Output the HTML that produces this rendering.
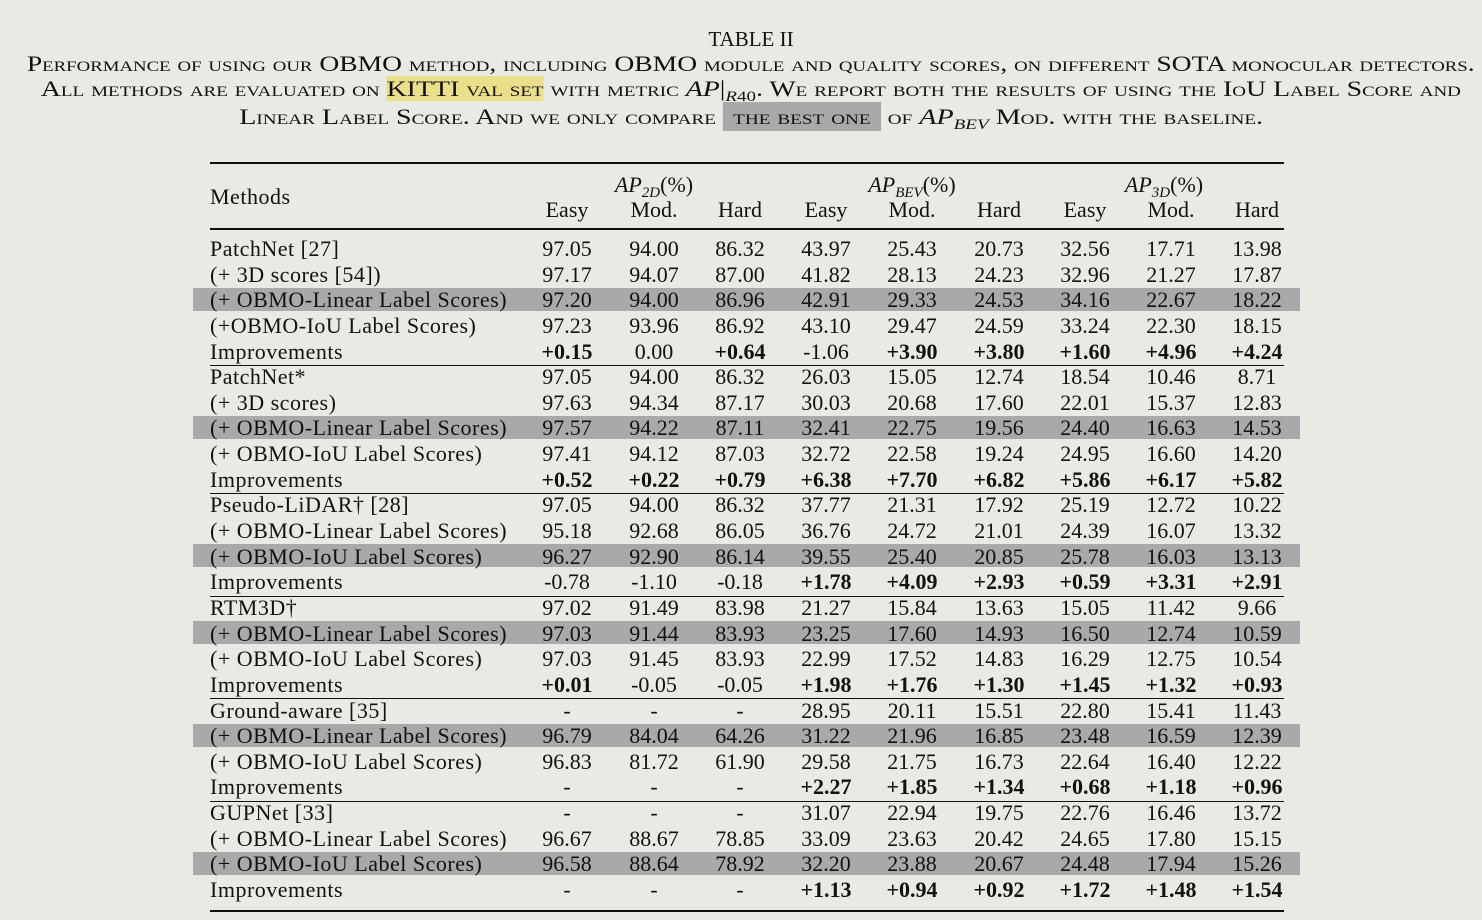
<!DOCTYPE html>
<html><head><meta charset="utf-8"><style>
body{margin:0;width:1482px;height:920px;background:#e8ebe3;font-family:"Liberation Serif",serif;color:#111;position:relative;overflow:hidden}
.c{position:absolute;left:0;width:1482px;text-align:center;white-space:nowrap;font-size:22px;font-variant:small-caps;line-height:26px}
.c span.w{display:inline-block}
.t{position:absolute;white-space:nowrap;font-size:22px;line-height:26px;letter-spacing:0.5px}
.n{position:absolute;width:90px;text-align:center;white-space:nowrap;font-size:22px;line-height:26px}
.b{font-weight:bold}
.hl{position:absolute;left:193px;width:1107px;height:23px;background:#a9a9a9}
.ln{position:absolute;left:210px;width:1074px;background:#111}
i{font-family:"Liberation Serif",serif}
sub{font-size:15px;vertical-align:-5px;line-height:0}
</style></head><body>
<div class="c" style="top:26px;font-variant:normal;font-size:21px;left:10px">TABLE II</div>
<div class="c" style="top:51px;left:10px"><span class="w" style="transform:scaleX(1.253)">Performance of using our OBMO method, including OBMO module and quality scores, on different SOTA monocular detectors.</span></div>
<div class="c" style="top:76px;left:10px"><span class="w" style="transform:scaleX(1.266)">All methods are evaluated on <span style="background:#ebdf8c">KITTI val set</span> with metric <i>AP</i>|<sub><i>R</i>40</sub>. We report both the results of using the IoU Label Score and</span></div>
<div class="c" style="top:104px;left:10px"><span class="w" style="transform:scaleX(1.276)">Linear Label Score. And we only compare <span style="background:#a9a9a9;padding:2px 8px">the best one</span> of <i>AP<sub>BEV</sub></i> Mod. with the baseline.</span></div>
<div class="ln" style="top:162px;height:2px"></div>
<div class="ln" style="top:228px;height:1.5px"></div>
<div class="ln" style="top:910px;height:2px"></div>
<div class="t" style="left:210px;top:184px">Methods</div>
<div class="n" style="left:609px;top:172px;width:90px"><i>AP<sub>2D</sub></i>(%)</div>
<div class="n" style="left:867px;top:172px;width:90px"><i>AP<sub>BEV</sub></i>(%)</div>
<div class="n" style="left:1119px;top:172px;width:90px"><i>AP<sub>3D</sub></i>(%)</div>
<script>
var cx=[567,654,740,826,912,999,1085,1171,1257];
var h=document.body;
function add(cls,style,txt){var d=document.createElement('div');d.className=cls;d.style.cssText=style;d.innerHTML=txt;h.appendChild(d);}
["Easy","Mod.","Hard","Easy","Mod.","Hard","Easy","Mod.","Hard"].forEach(function(s,i){add('n','left:'+(cx[i]-45)+'px;top:197px',s);});
var R=[
["PatchNet [27]","97.05 94.00 86.32 43.97 25.43 20.73 32.56 17.71 13.98",0,""],
["(+ 3D scores [54])","97.17 94.07 87.00 41.82 28.13 24.23 32.96 21.27 17.87",0,""],
["(+ OBMO-Linear Label Scores)","97.20 94.00 86.96 42.91 29.33 24.53 34.16 22.67 18.22",1,""],
["(+OBMO-IoU Label Scores)","97.23 93.96 86.92 43.10 29.47 24.59 33.24 22.30 18.15",0,""],
["Improvements","+0.15 0.00 +0.64 -1.06 +3.90 +3.80 +1.60 +4.96 +4.24",0,"101011111"],
["PatchNet*","97.05 94.00 86.32 26.03 15.05 12.74 18.54 10.46 8.71",0,""],
["(+ 3D scores)","97.63 94.34 87.17 30.03 20.68 17.60 22.01 15.37 12.83",0,""],
["(+ OBMO-Linear Label Scores)","97.57 94.22 87.11 32.41 22.75 19.56 24.40 16.63 14.53",1,""],
["(+ OBMO-IoU Label Scores)","97.41 94.12 87.03 32.72 22.58 19.24 24.95 16.60 14.20",0,""],
["Improvements","+0.52 +0.22 +0.79 +6.38 +7.70 +6.82 +5.86 +6.17 +5.82",0,"111111111"],
["Pseudo-LiDAR† [28]","97.05 94.00 86.32 37.77 21.31 17.92 25.19 12.72 10.22",0,""],
["(+ OBMO-Linear Label Scores)","95.18 92.68 86.05 36.76 24.72 21.01 24.39 16.07 13.32",0,""],
["(+ OBMO-IoU Label Scores)","96.27 92.90 86.14 39.55 25.40 20.85 25.78 16.03 13.13",1,""],
["Improvements","-0.78 -1.10 -0.18 +1.78 +4.09 +2.93 +0.59 +3.31 +2.91",0,"000111111"],
["RTM3D†","97.02 91.49 83.98 21.27 15.84 13.63 15.05 11.42 9.66",0,""],
["(+ OBMO-Linear Label Scores)","97.03 91.44 83.93 23.25 17.60 14.93 16.50 12.74 10.59",1,""],
["(+ OBMO-IoU Label Scores)","97.03 91.45 83.93 22.99 17.52 14.83 16.29 12.75 10.54",0,""],
["Improvements","+0.01 -0.05 -0.05 +1.98 +1.76 +1.30 +1.45 +1.32 +0.93",0,"100111111"],
["Ground-aware [35]","- - - 28.95 20.11 15.51 22.80 15.41 11.43",0,""],
["(+ OBMO-Linear Label Scores)","96.79 84.04 64.26 31.22 21.96 16.85 23.48 16.59 12.39",1,""],
["(+ OBMO-IoU Label Scores)","96.83 81.72 61.90 29.58 21.75 16.73 22.64 16.40 12.22",0,""],
["Improvements","- - - +2.27 +1.85 +1.34 +0.68 +1.18 +0.96",0,"000111111"],
["GUPNet [33]","- - - 31.07 22.94 19.75 22.76 16.46 13.72",0,""],
["(+ OBMO-Linear Label Scores)","96.67 88.67 78.85 33.09 23.63 20.42 24.65 17.80 15.15",0,""],
["(+ OBMO-IoU Label Scores)","96.58 88.64 78.92 32.20 23.88 20.67 24.48 17.94 15.26",1,""],
["Improvements","- - - +1.13 +0.94 +0.92 +1.72 +1.48 +1.54",0,"000111111"]];
R.forEach(function(r,k){
 var y=248+k*25.64;
 if(r[2])add('hl','top:'+(y-11.5)+'px','');
 add('t','left:210px;top:'+(y-12)+'px',r[0]);
 r[1].split(' ').forEach(function(v,i){add('n'+(r[3][i]=='1'?' b':''),'left:'+(cx[i]-45)+'px;top:'+(y-12)+'px',v);});
});
[365,493,596,698,801].forEach(function(y){add('ln','top:'+y+'px;height:1px','');});
</script>
</body></html>
